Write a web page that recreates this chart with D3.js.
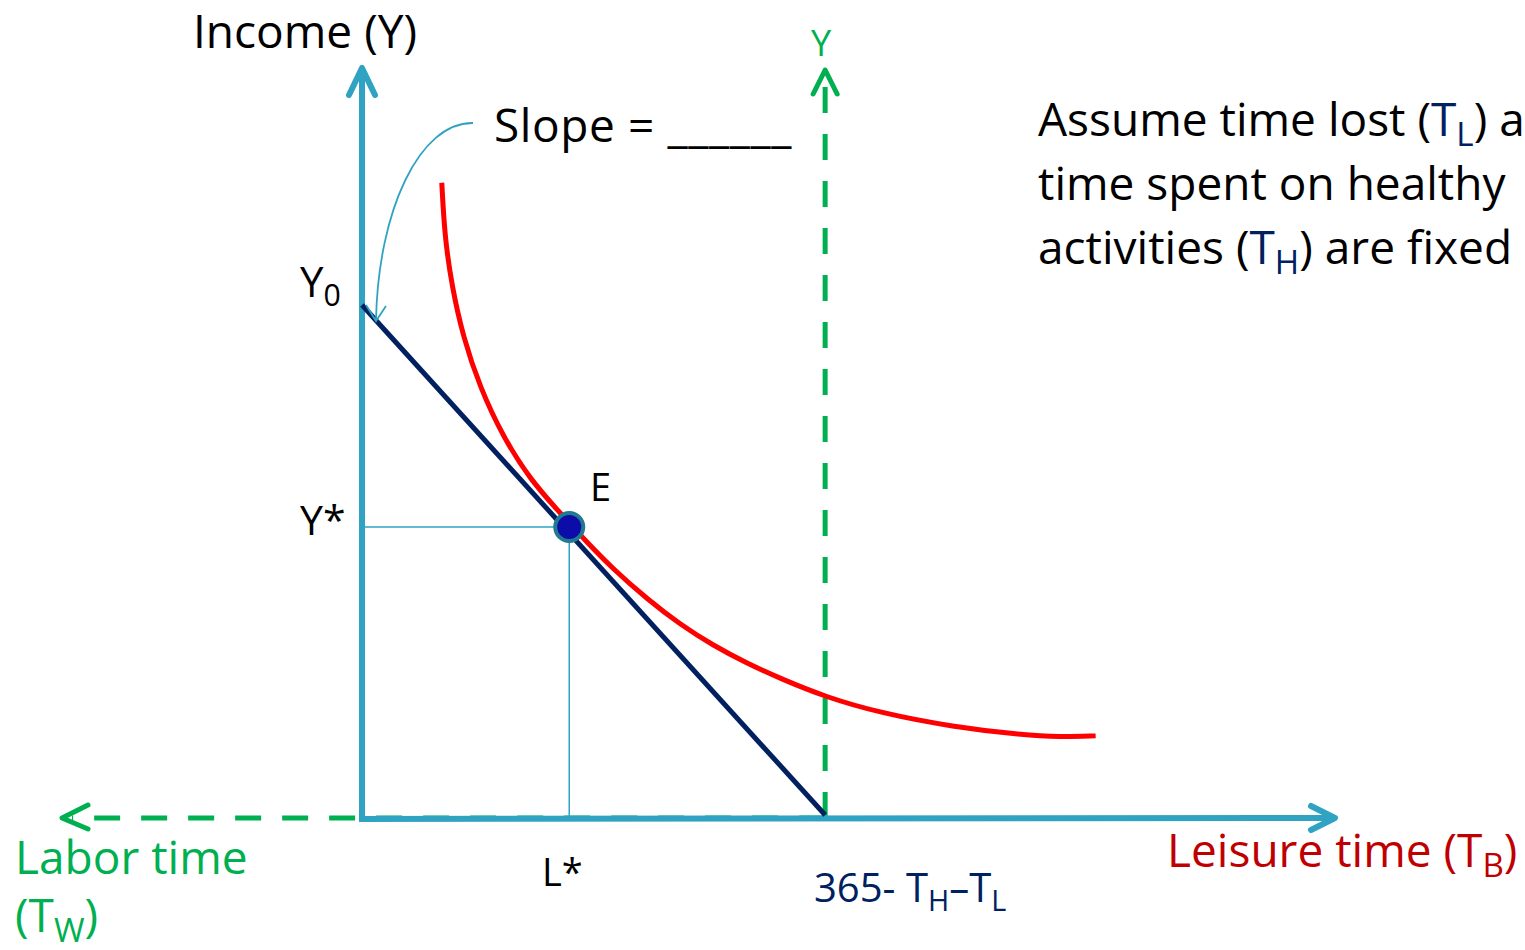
<!DOCTYPE html>
<html>
  <head>
    <title>Labor-leisure choice</title>
    <script src="https://d3js.org/d3.v7.min.js"></script>
    <style>
      body { margin: 0; background: #fff; overflow: hidden; }
      text { font-family: "Open Sans", "Noto Sans", sans-serif; }
    </style>
  </head>
  <body>
    <div id="chart"></div>
    <script>
      // values in abstract units: leisure time (x) and income (y), both 0..100
      var budgetLine = [ { x: 0, y: 68.4 }, { x: 47.6, y: 0.4 } ];
      var indifference = [
        { x: 8.2, y: 84.7 }, { x: 8.5, y: 77.5 }, { x: 9.25, y: 70.8 },
        { x: 10.4, y: 64.1 }, { x: 12.1, y: 57.5 }, { x: 14.5, y: 50.8 },
        { x: 17.3, y: 45.1 }, { x: 20.35, y: 40.7 }, { x: 21.4, y: 39.2 },
        { x: 23.1, y: 36.8 }, { x: 25.8, y: 33.2 }, { x: 29.3, y: 29.2 },
        { x: 32.7, y: 25.8 }, { x: 36.1, y: 23.0 }, { x: 39.6, y: 20.6 },
        { x: 43.0, y: 18.6 }, { x: 47.7, y: 16.1 }, { x: 53.3, y: 14.0 },
        { x: 60.7, y: 12.15 }, { x: 68.0, y: 11.05 }, { x: 71.7, y: 10.8 },
        { x: 75.4, y: 10.95 }
      ];
      var equilibrium = { x: 21.3, y: 38.8 };
      var maxLeisure = 47.6;     // 365 - TH - TL
      var y0Value = 68.4;

      var width = 1525, height = 950;
      var svg = d3.select("#chart").append("svg")
        .attr("width", width).attr("height", height);

      var x = d3.scaleLinear().domain([0, 100]).range([362, 1335]);
      var y = d3.scaleLinear().domain([0, 100]).range([818, 68]);

      var blue = "#31a3c2", green = "#00b050", navy = "#002060";

      // green dashed axes (labor time and max leisure)
      svg.append("line")
        .attr("x1", x(maxLeisure)).attr("y1", y(0))
        .attr("x2", 72).attr("y2", y(0))
        .attr("stroke", green).attr("stroke-width", 5)
        .attr("stroke-dasharray", "26,21");
      svg.append("path")
        .attr("d", "M88,805 L62," + y(0) + " L88,829")
        .attr("fill", "none").attr("stroke", green).attr("stroke-width", 5)
        .attr("stroke-linecap", "round").attr("stroke-linejoin", "round");

      svg.append("line")
        .attr("x1", x(maxLeisure)).attr("y1", y(0))
        .attr("x2", x(maxLeisure)).attr("y2", 78)
        .attr("stroke", green).attr("stroke-width", 5)
        .attr("stroke-dasharray", "26,21");
      svg.append("path")
        .attr("d", "M" + (x(maxLeisure) - 12) + ",94 L" + x(maxLeisure) + ",70 L" + (x(maxLeisure) + 12) + ",94")
        .attr("fill", "none").attr("stroke", green).attr("stroke-width", 5)
        .attr("stroke-linecap", "round").attr("stroke-linejoin", "round");

      // main axes
      svg.append("line")
        .attr("x1", x(0)).attr("y1", y(0)).attr("x2", x(0)).attr("y2", y(100) + 2)
        .attr("stroke", blue).attr("stroke-width", 6);
      svg.append("path")
        .attr("d", "M" + (x(0) - 13) + ",95 L" + x(0) + "," + y(100) + " L" + (x(0) + 13) + ",95")
        .attr("fill", "none").attr("stroke", blue).attr("stroke-width", 6)
        .attr("stroke-linecap", "round").attr("stroke-linejoin", "round");

      svg.append("line")
        .attr("x1", x(0) - 3).attr("y1", y(0) + 1).attr("x2", x(100) - 2).attr("y2", y(0))
        .attr("stroke", blue).attr("stroke-width", 6);
      svg.append("path")
        .attr("d", "M" + (x(100) - 24) + "," + (y(0) - 12) + " L" + x(100) + "," + y(0) + " L" + (x(100) - 24) + "," + (y(0) + 12))
        .attr("fill", "none").attr("stroke", blue).attr("stroke-width", 6)
        .attr("stroke-linecap", "round").attr("stroke-linejoin", "round");

      // guide lines to E
      svg.append("line")
        .attr("x1", x(0)).attr("y1", y(equilibrium.y))
        .attr("x2", x(equilibrium.x)).attr("y2", y(equilibrium.y))
        .attr("stroke", blue).attr("stroke-width", 1.5);
      svg.append("line")
        .attr("x1", x(equilibrium.x)).attr("y1", y(equilibrium.y))
        .attr("x2", x(equilibrium.x)).attr("y2", y(0))
        .attr("stroke", blue).attr("stroke-width", 1.5);

      // indifference curve
      var line = d3.line()
        .x(function(d) { return x(d.x); })
        .y(function(d) { return y(d.y); })
        .curve(d3.curveBasis);
      svg.append("path")
        .datum(indifference)
        .attr("d", line)
        .attr("fill", "none").attr("stroke", "#ff0000").attr("stroke-width", 5);

      // budget line
      svg.append("path")
        .datum(budgetLine)
        .attr("d", d3.line().x(function(d) { return x(d.x); }).y(function(d) { return y(d.y); }))
        .attr("fill", "none").attr("stroke", navy).attr("stroke-width", 5);

      // equilibrium point
      svg.append("circle")
        .attr("cx", x(equilibrium.x)).attr("cy", y(equilibrium.y)).attr("r", 14)
        .attr("fill", "#0c0ca8").attr("stroke", "#217a90").attr("stroke-width", 4);

      // slope annotation arrow
      var tip = [x(0) + 14, y(y0Value) + 16];
      svg.append("path")
        .attr("d", "M473,123 C420,122 378,210 " + tip[0] + "," + tip[1])
        .attr("fill", "none").attr("stroke", blue).attr("stroke-width", 1.8);
      svg.append("path")
        .attr("d", "M" + (tip[0] - 10) + "," + (tip[1] - 16) + " L" + tip[0] + "," + tip[1] + " L" + (tip[0] + 10) + "," + (tip[1] - 15))
        .attr("fill", "none").attr("stroke", blue).attr("stroke-width", 1.8);

      // labels
      function label(tx, ty, size, color, parts) {
        var t = svg.append("text").attr("x", tx).attr("y", ty)
          .attr("font-size", size).attr("fill", color);
        parts.forEach(function(p) {
          var s = t.append("tspan").text(p.t);
          if (p.c) s.attr("fill", p.c);
          if (p.sub) s.attr("font-size", size * 0.72).attr("dy", size * 0.22);
          if (p.up) s.attr("dy", -size * 0.22);
        });
        return t;
      }

      label(193, 48, 46, "#000", [{ t: "Income (Y)" }]);
      label(811, 56, 36, green, [{ t: "Y" }]);
      label(494, 142, 46, "#000", [{ t: "Slope = ______" }]).attr("letter-spacing", 0.6);
      label(300, 297, 42, "#000", [{ t: "Y" }, { t: "0", sub: true }]);
      label(300, 535, 41, "#000", [{ t: "Y*" }]);
      label(590, 501, 38, "#000", [{ t: "E" }]);
      label(542, 886, 38, "#000", [{ t: "L*" }]);
      label(814, 902, 40, navy, [{ t: "365- T" }, { t: "H", sub: true }, { t: "\u2013T", up: true }, { t: "L", sub: true }]);
      label(1167, 867, 46, "#c00000", [{ t: "Leisure time (T" }, { t: "B", sub: true }, { t: ")", up: true }]);
      label(15, 874, 46, green, [{ t: "Labor time" }]);
      label(15, 932, 46, green, [{ t: "(T" }, { t: "W", sub: true }, { t: ")", up: true }]);

      label(1038, 136, 46, "#000", [{ t: "Assume time lost (" }, { t: "T", c: navy }, { t: "L", sub: true, c: navy }, { t: ") a", up: true }]);
      label(1038, 200, 46, "#000", [{ t: "time spent on healthy" }]);
      label(1038, 264, 46, "#000", [{ t: "activities (" }, { t: "T", c: navy }, { t: "H", sub: true, c: navy }, { t: ") are fixed", up: true }]);
    </script>
  </body>
</html>
